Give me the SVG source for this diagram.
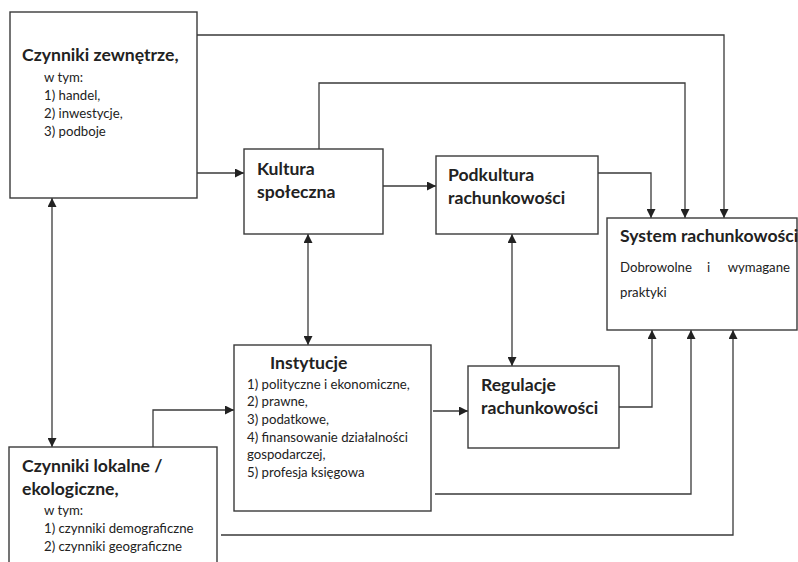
<svg xmlns="http://www.w3.org/2000/svg" width="798" height="562" viewBox="0 0 798 562">
<style>
.box{fill:#fff;stroke:#3a3a3a;stroke-width:1.4}
.ln{fill:none;stroke:#3a3a3a;stroke-width:1.3}
.h{font-family:Lato,"Noto Sans",sans-serif;font-weight:bold;font-size:17.6px;fill:#222}
.t{font-family:Lato,"Noto Sans",sans-serif;font-size:13.2px;fill:#222}
</style>
<defs>
<marker id="a" viewBox="0 0 10 10" refX="10" refY="5" markerWidth="11" markerHeight="9" markerUnits="userSpaceOnUse" orient="auto-start-reverse"><path d="M0,0 L10,5 L0,10 z" fill="#222"/></marker>
</defs>
<g id="connectors">
<path class="ln" d="M197,35 H724 V218" marker-end="url(#a)"/>
<path class="ln" d="M319,149 V83 H685 V218" marker-end="url(#a)"/>
<path class="ln" d="M598,173 H651 V218" marker-end="url(#a)"/>
<path class="ln" d="M197,173 H244" marker-end="url(#a)"/>
<path class="ln" d="M383,186 H436" marker-end="url(#a)"/>
<path class="ln" d="M308,234 V345" marker-start="url(#a)" marker-end="url(#a)"/>
<path class="ln" d="M512,234 V366" marker-start="url(#a)" marker-end="url(#a)"/>
<path class="ln" d="M52,198 V447" marker-start="url(#a)" marker-end="url(#a)"/>
<path class="ln" d="M153,447 V410 H234" marker-end="url(#a)"/>
<path class="ln" d="M433,411 H468" marker-end="url(#a)"/>
<path class="ln" d="M619,407 H652 V330" marker-end="url(#a)"/>
<path class="ln" d="M435,494 H691 V330" marker-end="url(#a)"/>
<path class="ln" d="M221,535 H733 V330" marker-end="url(#a)"/>
</g>
<g id="zewnetrzne">
<rect class="box" x="10" y="12" width="187" height="186"/>
<text class="h" x="22" y="61">Czynniki zewnętrze,</text>
<text class="t" x="44" y="82">w tym:</text>
<text class="t" x="44" y="100">1) handel,</text>
<text class="t" x="44" y="118">2) inwestycje,</text>
<text class="t" x="44" y="136">3) podboje</text>
</g>
<g id="kultura">
<rect class="box" x="244" y="149" width="139" height="85"/>
<text class="h" x="257" y="175">Kultura</text>
<text class="h" x="257" y="198">społeczna</text>
</g>
<g id="podkultura">
<rect class="box" x="436" y="156" width="162" height="78"/>
<text class="h" x="448" y="181">Podkultura</text>
<text class="h" x="448" y="204">rachunkowości</text>
</g>
<g id="system">
<rect class="box" x="607" y="218" width="190" height="112"/>
<text class="h" x="620" y="242">System rachunkowości</text>
<text class="t" x="620" y="272">Dobrowolne</text>
<text class="t" x="707" y="272">i</text>
<text class="t" x="790" y="272" text-anchor="end">wymagane</text>
<text class="t" x="620" y="297">praktyki</text>
</g>
<g id="instytucje">
<rect class="box" x="234" y="345" width="197" height="166"/>
<text class="h" x="270" y="369">Instytucje</text>
<text class="t" x="247" y="389">1) polityczne i ekonomiczne,</text>
<text class="t" x="247" y="406">2) prawne,</text>
<text class="t" x="247" y="424">3) podatkowe,</text>
<text class="t" x="247" y="442">4) finansowanie działalności</text>
<text class="t" x="247" y="459">gospodarczej,</text>
<text class="t" x="247" y="477">5) profesja księgowa</text>
</g>
<g id="regulacje">
<rect class="box" x="468" y="366" width="151" height="82"/>
<text class="h" x="481" y="391">Regulacje</text>
<text class="h" x="481" y="414">rachunkowości</text>
</g>
<g id="lokalne">
<rect class="box" x="9" y="447" width="208" height="125"/>
<text class="h" x="22" y="472">Czynniki lokalne /</text>
<text class="h" x="22" y="495">ekologiczne,</text>
<text class="t" x="44" y="515">w tym:</text>
<text class="t" x="44" y="533">1) czynniki demograficzne</text>
<text class="t" x="44" y="551">2) czynniki geograficzne</text>
</g>
</svg>
